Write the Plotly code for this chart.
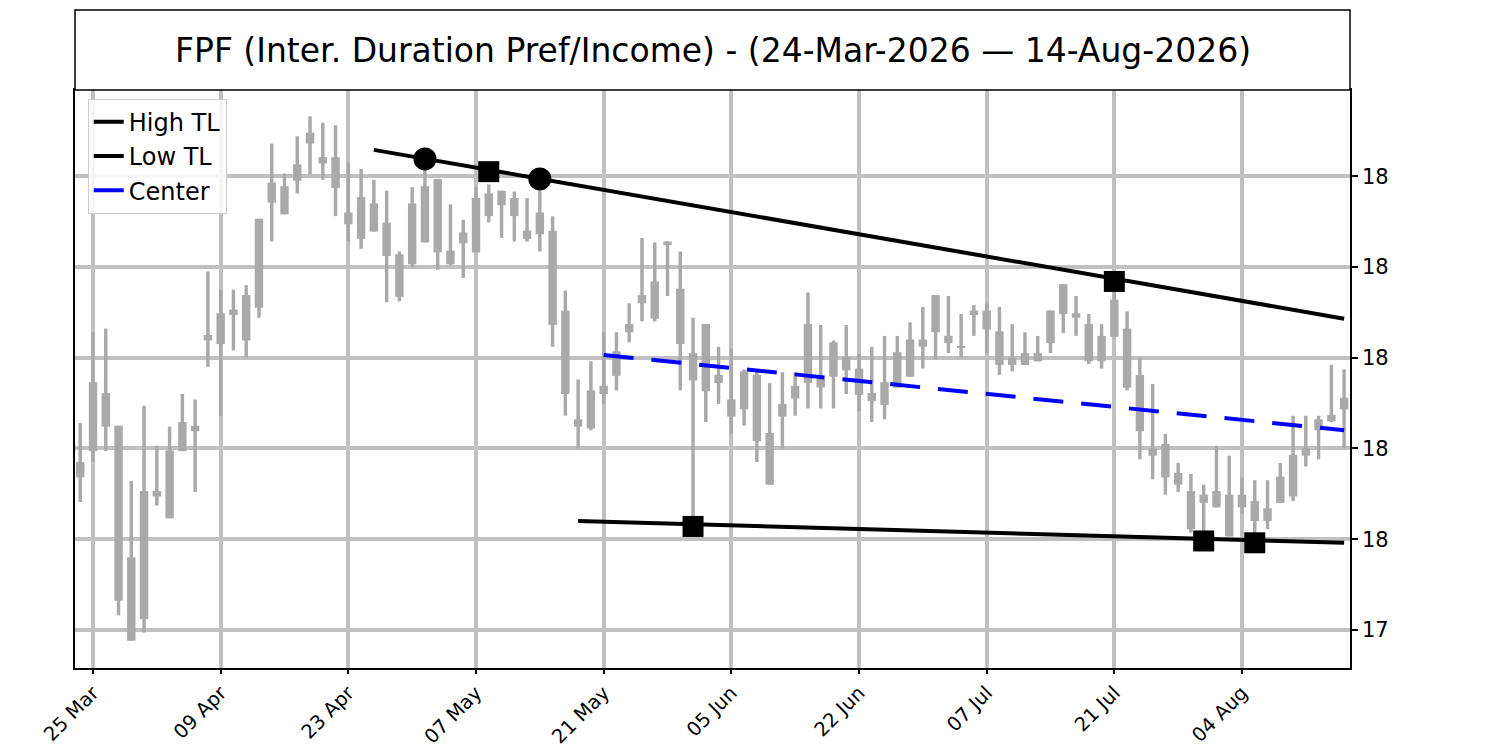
import pandas as pd
import plotly.graph_objects as go

# ---------------- data ----------------
TITLE = "FPF (Inter. Duration Pref/Income) - (24-Mar-2026 \u2014 14-Aug-2026)"
HOLIDAYS = ["2026-04-03", "2026-05-25", "2026-06-19", "2026-07-03"]
DATES = pd.bdate_range("2026-03-24", "2026-08-14", freq="C", holidays=HOLIDAYS)

HIGH = [17.628, 17.728, 17.732, 17.625, 17.564, 17.647, 17.603, 17.624, 17.660, 17.654,
        17.795, 17.775, 17.775, 17.780, 17.853, 17.936, 17.903, 17.944, 17.966, 17.959,
        17.956, 17.915, 17.908, 17.896, 17.884, 17.817, 17.888, 17.908, 17.897, 17.869,
        17.852, 17.888, 17.891, 17.884, 17.883, 17.876, 17.884, 17.856, 17.774, 17.676,
        17.696, 17.728, 17.728, 17.760, 17.832, 17.827, 17.828, 17.817, 17.744, 17.737,
        17.712, 17.710, 17.687, 17.687, 17.672, 17.684, 17.684, 17.772, 17.736, 17.719,
        17.736, 17.704, 17.712, 17.724, 17.724, 17.739, 17.756, 17.769, 17.768, 17.748,
        17.758, 17.760, 17.756, 17.737, 17.728, 17.724, 17.752, 17.781, 17.768, 17.748,
        17.737, 17.778, 17.751, 17.700, 17.671, 17.616, 17.584, 17.572, 17.560, 17.603,
        17.592, 17.568, 17.565, 17.565, 17.584, 17.636, 17.636, 17.636, 17.692, 17.687]
LOW = [17.541, 17.585, 17.597, 17.416, 17.388, 17.397, 17.537, 17.523, 17.597, 17.552,
       17.690, 17.636, 17.708, 17.700, 17.744, 17.828, 17.858, 17.881, 17.902, 17.896,
       17.856, 17.828, 17.820, 17.839, 17.761, 17.762, 17.800, 17.827, 17.797, 17.802,
       17.788, 17.816, 17.849, 17.832, 17.828, 17.828, 17.817, 17.712, 17.636, 17.600,
       17.620, 17.649, 17.664, 17.717, 17.740, 17.740, 17.768, 17.664, 17.516, 17.629,
       17.649, 17.617, 17.625, 17.585, 17.560, 17.600, 17.636, 17.644, 17.644, 17.644,
       17.660, 17.641, 17.629, 17.632, 17.667, 17.679, 17.688, 17.698, 17.705, 17.700,
       17.724, 17.705, 17.681, 17.685, 17.692, 17.696, 17.705, 17.727, 17.724, 17.693,
       17.688, 17.723, 17.664, 17.588, 17.566, 17.549, 17.552, 17.507, 17.500, 17.535,
       17.503, 17.528, 17.498, 17.511, 17.540, 17.542, 17.580, 17.588, 17.629, 17.600]
OPEN = [17.585, 17.673, 17.661, 17.625, 17.480, 17.553, 17.553, 17.598, 17.629, 17.625,
        17.725, 17.749, 17.753, 17.769, 17.853, 17.893, 17.889, 17.913, 17.948, 17.921,
        17.921, 17.860, 17.877, 17.870, 17.849, 17.814, 17.870, 17.889, 17.897, 17.818,
        17.838, 17.876, 17.881, 17.884, 17.876, 17.840, 17.860, 17.840, 17.752, 17.632,
        17.664, 17.669, 17.707, 17.737, 17.769, 17.784, 17.828, 17.776, 17.705, 17.737,
        17.681, 17.654, 17.685, 17.681, 17.617, 17.649, 17.669, 17.737, 17.677, 17.717,
        17.701, 17.688, 17.661, 17.673, 17.706, 17.720, 17.720, 17.769, 17.724, 17.712,
        17.752, 17.752, 17.729, 17.700, 17.705, 17.705, 17.752, 17.781, 17.749, 17.737,
        17.724, 17.764, 17.732, 17.681, 17.600, 17.605, 17.573, 17.553, 17.549, 17.553,
        17.549, 17.549, 17.542, 17.534, 17.569, 17.593, 17.600, 17.632, 17.637, 17.656]
CLOSE = [17.568, 17.597, 17.624, 17.432, 17.388, 17.412, 17.547, 17.523, 17.597, 17.619,
         17.719, 17.715, 17.747, 17.719, 17.755, 17.871, 17.858, 17.895, 17.936, 17.914,
         17.887, 17.847, 17.831, 17.839, 17.812, 17.767, 17.803, 17.827, 17.816, 17.803,
         17.826, 17.816, 17.856, 17.868, 17.856, 17.831, 17.836, 17.736, 17.660, 17.624,
         17.622, 17.660, 17.680, 17.728, 17.760, 17.743, 17.824, 17.715, 17.675, 17.663,
         17.672, 17.635, 17.643, 17.608, 17.560, 17.635, 17.655, 17.672, 17.667, 17.679,
         17.686, 17.659, 17.652, 17.648, 17.667, 17.679, 17.712, 17.728, 17.716, 17.711,
         17.747, 17.731, 17.692, 17.692, 17.692, 17.696, 17.716, 17.748, 17.744, 17.696,
         17.696, 17.723, 17.667, 17.619, 17.592, 17.568, 17.560, 17.511, 17.540, 17.535,
         17.503, 17.535, 17.520, 17.520, 17.540, 17.547, 17.592, 17.620, 17.630, 17.643]

# trend lines: [start index, end index] and prices at those ends
HIGH_TL_IDX = [23, 99]
HIGH_TL_VAL = [17.929, 17.743]
LOW_TL_IDX = [39, 99]
LOW_TL_VAL = [17.520, 17.496]
CENTER_IDX = [41, 99]
CENTER_VAL = [17.703, 17.620]

# pivot markers
HIGH_CIRCLE_IDX = [27, 36]
HIGH_CIRCLE_VAL = [17.919, 17.897]
HIGH_SQUARE_IDX = [32, 81]
HIGH_SQUARE_VAL = [17.905, 17.784]
LOW_SQUARE_IDX = [48, 88, 92]
LOW_SQUARE_VAL = [17.514, 17.498, 17.496]

Y_TICKS = [17.4, 17.5, 17.6, 17.7, 17.8, 17.9]
TICK_STEP = 10
TICK_START = 1

# ---------------- figure ----------------
X = list(range(len(DATES)))
CANDLE = "#a9a9a9"
FONT = "DejaVu Sans"

body_base = [min(o, c) for o, c in zip(OPEN, CLOSE)]
body_h = [max(abs(o - c), 0.0012) for o, c in zip(OPEN, CLOSE)]
wick_h = [h - l for h, l in zip(HIGH, LOW)]

fig = go.Figure()
fig.add_trace(go.Bar(x=X, y=wick_h, base=LOW, width=0.27, marker=dict(color=CANDLE, line=dict(width=0)),
                     showlegend=False, hoverinfo="skip"))
fig.add_trace(go.Bar(x=X, y=body_h, base=body_base, width=0.66, marker=dict(color=CANDLE, line=dict(width=0)),
                     showlegend=False, customdata=list(zip(OPEN, HIGH, LOW, CLOSE)),
                     hovertemplate="O %{customdata[0]}<br>H %{customdata[1]}<br>L %{customdata[2]}<br>C %{customdata[3]}<extra></extra>"))

fig.add_trace(go.Scatter(x=HIGH_TL_IDX, y=HIGH_TL_VAL, mode="lines", name="High TL",
                         line=dict(color="black", width=4)))
fig.add_trace(go.Scatter(x=LOW_TL_IDX, y=LOW_TL_VAL, mode="lines", name="Low TL",
                         line=dict(color="black", width=4)))
fig.add_trace(go.Scatter(x=CENTER_IDX, y=CENTER_VAL, mode="lines", name="Center",
                         line=dict(color="blue", width=4, dash="30px,18px")))

fig.add_trace(go.Scatter(x=HIGH_CIRCLE_IDX, y=HIGH_CIRCLE_VAL, mode="markers", showlegend=False,
                         marker=dict(symbol="circle", size=23, color="black")))
fig.add_trace(go.Scatter(x=HIGH_SQUARE_IDX, y=HIGH_SQUARE_VAL, mode="markers", showlegend=False,
                         marker=dict(symbol="square", size=21, color="black")))
fig.add_trace(go.Scatter(x=LOW_SQUARE_IDX, y=LOW_SQUARE_VAL, mode="markers", showlegend=False,
                         marker=dict(symbol="square", size=21, color="black")))

tick_idx = list(range(TICK_START, len(DATES), TICK_STEP))
tick_txt = [DATES[i].strftime("%d %b") for i in tick_idx]
y_txt = ["%.0f" % v for v in Y_TICKS]

# the page body adds an 8px offset, so the figure is 8px smaller and margins shifted
fig.update_layout(
    width=1492, height=742,
    margin=dict(l=67, r=150, t=82, b=82, autoexpand=False),
    paper_bgcolor="white", plot_bgcolor="white",
    barmode="overlay",
    font=dict(family=FONT, color="black"),
    showlegend=True,
    legend=dict(x=0.01, y=0.985, xanchor="left", yanchor="top",
                bgcolor="rgba(255,255,255,0.85)", bordercolor="#cccccc", borderwidth=1,
                font=dict(size=24, family=FONT), itemwidth=30, tracegroupgap=0),
    xaxis=dict(range=[-0.41, 99.46], tickmode="array", tickvals=tick_idx, ticktext=tick_txt,
               tickangle=-45, tickfont=dict(size=19.5, family=FONT), automargin=False,
               showgrid=True, gridcolor="#c0c0c0", gridwidth=4,
               showline=True, linecolor="black", linewidth=1.5, mirror=True,
               ticks="outside", ticklen=4, tickwidth=1.5, tickcolor="black", zeroline=False),
    yaxis=dict(range=[17.358, 17.995], side="right", tickmode="array", tickvals=Y_TICKS, ticktext=y_txt,
               tickfont=dict(size=21, family=FONT), automargin=False,
               showgrid=True, gridcolor="#c0c0c0", gridwidth=4,
               showline=True, linecolor="black", linewidth=1.5, mirror=True,
               ticks="outside", ticklen=6, tickwidth=1.5, tickcolor="black", zeroline=False),
    shapes=[dict(type="rect", xref="paper", yref="paper", x0=0, x1=1, y0=1, y1=1 + 80 / 578,
                 line=dict(color="black", width=1.5), fillcolor="white", layer="above")],
    annotations=[dict(text=TITLE, xref="paper", yref="paper", x=0.5, y=1 + 40 / 578,
                      xanchor="center", yanchor="middle", showarrow=False,
                      font=dict(size=33, family=FONT, color="black"))],
)

fig.write_html("out.html")
